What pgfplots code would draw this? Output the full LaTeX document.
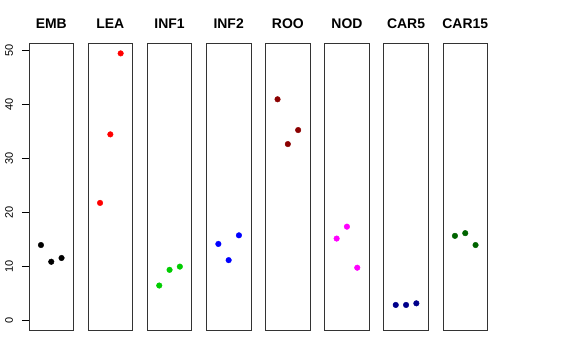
\documentclass[border=0pt]{standalone}
\usepackage{pgfplots}
\pgfplotsset{compat=1.18}
\usepackage{fontspec}
\setmainfont{Liberation Sans}
\definecolor{rgreen}{RGB}{0,205,0}
\definecolor{rdarkred}{RGB}{139,0,0}
\definecolor{rmagenta}{RGB}{255,0,255}
\definecolor{rnavy}{RGB}{0,0,139}
\definecolor{rdarkgreen}{RGB}{0,100,0}
\pgfplotsset{panel/.style={scale only axis, width=44.5bp, height=287.4bp,
  anchor=south west,
  xmin=-0.16, xmax=4.16, ymin=-1.97, ymax=51.27,
  xtick=\empty, ytick=\empty,
  axis line style={black!80, line width=0.8bp},
  title style={font=\fontsize{14}{16}\selectfont\bfseries, at={(0.5,1)}, anchor=base, yshift=9bp, inner sep=0pt},
  },
  pts/.style={only marks, mark=*, mark size=2.8bp, color=#1, mark options={draw=#1, fill=#1}}
}
\begin{document}
\begin{tikzpicture}
\path[use as bounding box, fill=white] (0,0) rectangle (576bp,360bp);
\begin{axis}[panel, at={(29bp,29.3bp)}, title=EMB,
  ytick={0,10,20,30,40,50}, ytick pos=left, tick align=outside,
  major tick length=7.2bp, tick style={black, line width=0.8bp},
  yticklabel style={rotate=90, anchor=south, inner sep=0pt, yshift=8.5bp, font=\fontsize{11}{13}\selectfont},
  /pgf/number format/assume math mode=true]
\addplot[pts=black] coordinates {(1,13.9)(2,10.8)(3,11.5)};
\end{axis}
\begin{axis}[panel, at={(88.1bp,29.3bp)}, title=LEA]
\addplot[pts=red] coordinates {(1,21.7)(2,34.4)(3,49.4)};
\end{axis}
\begin{axis}[panel, at={(147.3bp,29.3bp)}, title=INF1]
\addplot[pts=rgreen] coordinates {(1,6.4)(2,9.3)(3,9.9)};
\end{axis}
\begin{axis}[panel, at={(206.4bp,29.3bp)}, title=INF2]
\addplot[pts=blue] coordinates {(1,14.1)(2,11.1)(3,15.7)};
\end{axis}
\begin{axis}[panel, at={(265.6bp,29.3bp)}, title=ROO]
\addplot[pts=rdarkred] coordinates {(1,40.9)(2,32.6)(3,35.2)};
\end{axis}
\begin{axis}[panel, at={(324.7bp,29.3bp)}, title=NOD]
\addplot[pts=rmagenta] coordinates {(1,15.1)(2,17.3)(3,9.7)};
\end{axis}
\begin{axis}[panel, at={(383.8bp,29.3bp)}, title=CAR5]
\addplot[pts=rnavy] coordinates {(1,2.8)(2,2.8)(3,3.1)};
\end{axis}
\begin{axis}[panel, at={(443bp,29.3bp)}, title=CAR15]
\addplot[pts=rdarkgreen] coordinates {(1,15.6)(2,16.1)(3,13.9)};
\end{axis}
\end{tikzpicture}
\end{document}
